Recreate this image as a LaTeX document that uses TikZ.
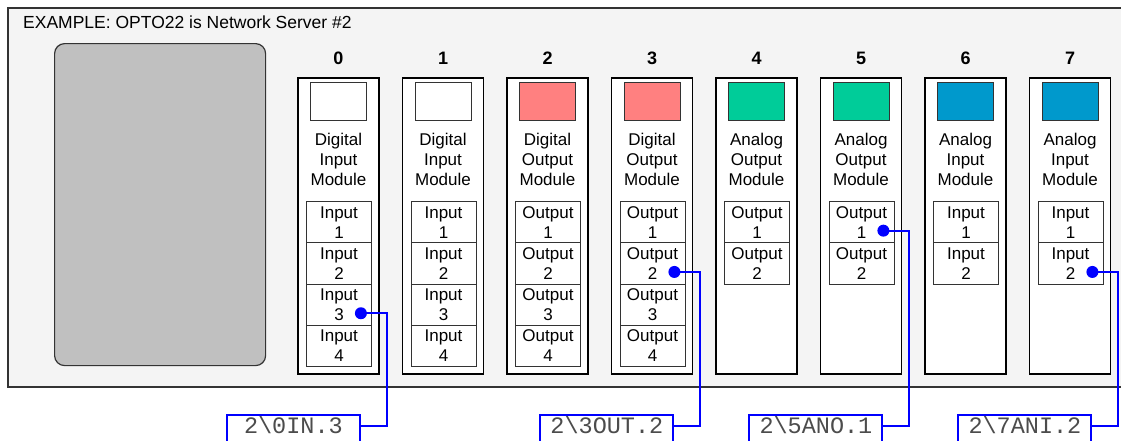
\documentclass[tikz,border=0pt]{standalone}
\usepackage{fontspec}
\setmainfont{Liberation Sans}
\newfontfamily\tagfont{Liberation Mono}
\usepackage{tikz}
\usetikzlibrary{positioning,calc}
\definecolor{RackBg}{HTML}{F4F4F4}
\definecolor{CpuGrey}{HTML}{C0C0C0}
\definecolor{DigOut}{HTML}{FF8080}
\definecolor{AnaOut}{HTML}{00CC99}
\definecolor{AnaIn}{HTML}{0099CC}
\definecolor{LinkBlue}{HTML}{0000FF}
\definecolor{EdgeGrey}{HTML}{333333}

\begin{document}
\begin{tikzpicture}[
  x=1pt, y=-1pt,
  rack/.style    = {draw=EdgeGrey, line width=1.5pt, fill=RackBg},
  cpu/.style     = {draw=EdgeGrey, line width=1.2pt, fill=CpuGrey,
                    rounded corners=10pt, minimum width=211pt,
                    minimum height=322pt, anchor=north west},
  module/.style  = {draw=black, line width=1.8pt, fill=white,
                    minimum width=81pt, minimum height=296pt, inner sep=0pt},
  slotnum/.style = {font=\fontsize{18}{20}\selectfont\bfseries, inner sep=0pt},
  lamp/.style    = {draw=EdgeGrey, line width=1pt, minimum width=56pt,
                    minimum height=38pt, inner sep=0pt},
  modname/.style = {align=center, font=\fontsize{17}{20}\selectfont, inner sep=0pt},
  point/.style   = {draw=EdgeGrey, line width=0.8pt, fill=white,
                    minimum width=65pt, minimum height=41.3pt, inner sep=0pt,
                    align=center, font=\fontsize{17}{20}\selectfont},
  tag/.style     = {draw=LinkBlue, line width=2pt, fill=white,
                    minimum width=133pt, inner sep=0pt, text height=18.5pt,
                    text depth=12pt, font=\tagfont\fontsize{23.5}{26}\selectfont,
                    text=black!70, anchor=north east},
  tapdot/.style  = {circle, fill=LinkBlue, minimum size=12pt, inner sep=0pt},
  link/.style    = {draw=LinkBlue, line width=2pt}
]
  \useasboundingbox (0,0) rectangle (1121,440);

  % Rack and title
  \path[rack] (8,8) rectangle (1128,387);
  \node[anchor=base west, inner sep=0pt, font=\fontsize{17.5}{20}\selectfont]
    (title) at (23,28) {EXAMPLE: OPTO22 is Network Server \#2};

  % Processor
  \node[cpu] (cpu) at (54,43) {};

  % I/O modules
  \foreach \i/\kind/\io/\col/\n in {0/Digital/Input/white/4,
                                    1/Digital/Input/white/4,
                                    2/Digital/Output/DigOut/4,
                                    3/Digital/Output/DigOut/4,
                                    4/Analog/Output/AnaOut/2,
                                    5/Analog/Output/AnaOut/2,
                                    6/Analog/Input/AnaIn/2,
                                    7/Analog/Input/AnaIn/2} {
    \node[module] (m\i) at (338.5+104.5*\i, 226) {};
    \node[slotnum, above=12pt of m\i] (n\i) {\i};
    \node[lamp, fill=\col, below=5pt of m\i.north] (l\i) {};
    \node[modname, below=12pt of l\i] (t\i) {\kind\\\io\\Module};
    \foreach \k in {1,...,\n}
      \node[point, anchor=north] (m\i-\k) at ($(m\i.north)+(0.5,124+41.3*\k-41.3)$) {\io\\\k};
  }

  % Tag names
  \coordinate (tagtop) at (0,414);
  \foreach \m/\k/\lab in {0/3/{2\textbackslash 0IN.3},
                          3/2/{2\textbackslash 3OUT.2},
                          5/1/{2\textbackslash 5ANO.1},
                          7/2/{2\textbackslash 7ANI.2}} {
    \coordinate (d\m) at ([xshift=-11pt, yshift=-8.5pt]m\m-\k.east);
    \node[tag] (tag\m) at (d\m |- tagtop) {\lab};
    \draw[link] (d\m) -- ++(26,0) |- ([yshift=-12pt]tag\m.north east);
    \node[tapdot] (dot\m) at (d\m) {};
  }

\end{tikzpicture}
\end{document}
